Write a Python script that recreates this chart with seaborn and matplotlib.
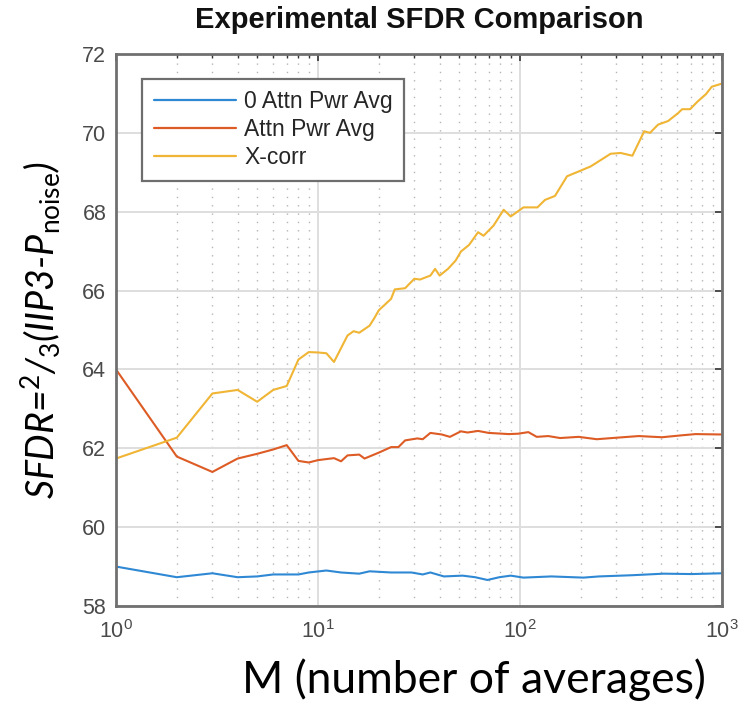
import numpy as np
import pandas as pd
import seaborn as sns
import matplotlib
matplotlib.use("Agg")
import matplotlib.pyplot as plt
from matplotlib.ticker import LogLocator, NullFormatter

# ---- data -------------------------------------------------------------
series_names = ["0 Attn Pwr Avg", "Attn Pwr Avg", "X-corr"]

m_zero = [1, 2, 3, 4, 5, 6, 8, 9, 11, 13, 16, 18, 23, 29, 33, 36, 42, 52, 60,
          69, 79, 90, 104, 143, 206, 246, 357, 514, 708, 1000]
sfdr_zero = [59.0, 58.73, 58.83, 58.73, 58.75, 58.8, 58.8, 58.85, 58.9, 58.85,
             58.82, 58.88, 58.85, 58.85, 58.8, 58.85, 58.75, 58.77, 58.73,
             58.66, 58.73, 58.77, 58.72, 58.75, 58.72, 58.75, 58.78, 58.82,
             58.81, 58.83]

m_attn = [1, 2, 3, 4, 5, 6, 7, 8, 9, 10, 12, 13, 14, 16, 17, 20, 23, 25, 27,
          31, 33, 36, 41, 45, 51, 55, 62, 70, 88, 98, 110, 121, 138, 158, 195,
          240, 286, 387, 505, 635, 740, 1000]
sfdr_attn = [64.0, 61.79, 61.4, 61.74, 61.86, 61.97, 62.08, 61.68, 61.64,
             61.7, 61.75, 61.67, 61.82, 61.84, 61.74, 61.89, 62.03, 62.03,
             62.2, 62.25, 62.23, 62.39, 62.35, 62.29, 62.43, 62.4, 62.44,
             62.39, 62.36, 62.37, 62.41, 62.29, 62.31, 62.26, 62.29, 62.23,
             62.26, 62.31, 62.28, 62.33, 62.36, 62.35]

m_xcorr = [1, 2, 3, 4, 5, 6, 7, 8, 9, 10, 11, 12, 14, 15, 16, 18, 19, 20, 23,
           24, 27, 30, 32, 36, 38, 40, 44, 48, 51, 56, 62, 66, 74, 83, 90, 104,
           122, 133, 149, 171, 195, 224, 281, 315, 360, 412, 440, 483, 541,
           606, 635, 695, 759, 832, 890, 1000]
sfdr_xcorr = [61.74, 62.27, 63.39, 63.48, 63.18, 63.48, 63.58, 64.25, 64.44,
              64.43, 64.41, 64.19, 64.86, 64.97, 64.93, 65.11, 65.3, 65.5,
              65.79, 66.03, 66.06, 66.3, 66.28, 66.38, 66.55, 66.38, 66.55,
              66.76, 66.99, 67.16, 67.48, 67.39, 67.65, 68.05, 67.88, 68.11,
              68.11, 68.3, 68.4, 68.9, 69.02, 69.15, 69.47, 69.49, 69.42,
              70.04, 70.0, 70.21, 70.3, 70.5, 70.6, 70.6, 70.8, 70.98, 71.17,
              71.25]

y_ticks = [58, 60, 62, 64, 66, 68, 70, 72]
x_ticks = [1, 10, 100, 1000]

line_colors = ["#2f88d4", "#dd5b24", "#f0b534"]

# ---- long-form table for seaborn --------------------------------------
frames = []
for name, m, v in zip(series_names,
                      [m_zero, m_attn, m_xcorr],
                      [sfdr_zero, sfdr_attn, sfdr_xcorr]):
    frames.append(pd.DataFrame({"M": m, "SFDR": v, "series": name}))
df = pd.concat(frames, ignore_index=True)

# ---- style ------------------------------------------------------------
sns.set_style("white")
plt.rcParams["font.family"] = ["Liberation Sans", "DejaVu Sans"]
plt.rcParams["mathtext.fontset"] = "custom"
plt.rcParams["mathtext.rm"] = "Lato"
plt.rcParams["mathtext.it"] = "Lato:italic"

fig = plt.figure(figsize=(7.42, 7.01), dpi=100)
ax = fig.add_axes([116 / 742, 1 - 606 / 701, 606 / 742, 552 / 701])

sns.lineplot(data=df, x="M", y="SFDR", hue="series", hue_order=series_names,
             palette=line_colors, estimator=None, sort=True, linewidth=1.5,
             ax=ax)

ax.set_xscale("log")
ax.set_xlim(1, 1000)
ax.set_ylim(58, 72)
ax.set_yticks(y_ticks)
ax.set_xticks(x_ticks)
ax.xaxis.set_minor_locator(LogLocator(base=10, subs=np.arange(2, 10)))
ax.xaxis.set_minor_formatter(NullFormatter())

# grid: solid major lines, dotted minor lines along x
ax.set_axisbelow(True)
ax.grid(True, which="major", color="#dedede", linewidth=1.4, linestyle="-")
ax.grid(True, which="minor", axis="x", color="#b5b5b5", linewidth=1.0,
        linestyle=(0, (1, 5)))

for sp in ax.spines.values():
    sp.set_visible(True)
    sp.set_color("#707070")
    sp.set_linewidth(2.0)

ax.tick_params(which="both", direction="in", top=True, right=True,
               color="#333333", labelcolor="#4a4a4a", labelsize=15.5)
ax.tick_params(which="major", length=5, width=1.2)
ax.tick_params(axis="y", which="major", pad=7)
ax.tick_params(axis="x", which="major", pad=10)
ax.tick_params(which="minor", length=3, width=1.0)

ax.set_title("Experimental SFDR Comparison", fontsize=21, fontweight="bold",
             color="#111111", pad=19)

ax.set_xlabel("M (number of averages)", fontfamily="Lato", fontsize=32,
              color="black")
ax.xaxis.set_label_coords(0.59, -0.095)
ax.set_ylabel(r"SFDR=$^{\mathrm{2}}$/$_{\mathrm{3}}$(IIP3-P$_{\mathrm{noise}}$)",
              fontfamily="Lato", fontstyle="italic", fontsize=27,
              color="black")
ax.yaxis.set_label_coords(-0.088, 0.5)

leg = ax.legend(loc="upper left", bbox_to_anchor=(0.043, 0.955),
                borderaxespad=0, fontsize=16.5, frameon=True, fancybox=False,
                framealpha=1, edgecolor="#6e6e6e", handlelength=3.6,
                handletextpad=0.35, labelspacing=0.22, borderpad=0.5,
                title=None)
leg.get_frame().set_linewidth(1.6)
for h in leg.get_lines():
    h.set_linewidth(1.6)

fig.savefig("out.png", dpi=100, facecolor="white")
